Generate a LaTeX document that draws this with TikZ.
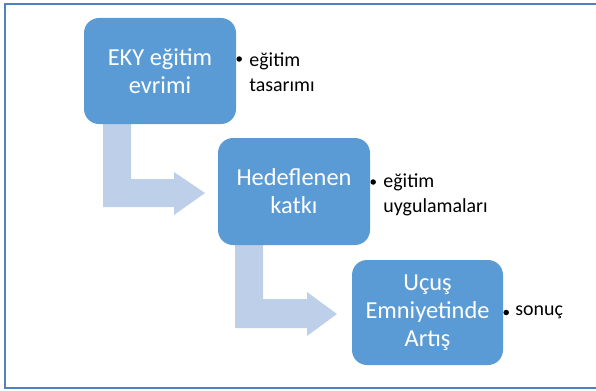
\documentclass[tikz,border=0pt]{standalone}
\usepackage{fontspec}
\setmainfont{Carlito}
\usetikzlibrary{calc}
\definecolor{boxblue}{RGB}{91,155,213}
\definecolor{framecol}{RGB}{79,129,196}
\definecolor{arrowcol}{RGB}{190,208,233}
\tikzset{
  stepbox/.style={draw=none, fill=boxblue, rounded corners=15bp, text=white,
    align=center, inner sep=0pt, font=\fontsize{24.5}{28}\selectfont},
  sidelabel/.style={anchor=west, align=left, inner sep=0pt, text=black,
    font=\fontsize{20}{25}\selectfont},
  bulletdot/.style={circle, fill=black, inner sep=0pt, minimum size=5.5bp},
  bendarrow/.style={fill=arrowcol, draw=none}
}
\begin{document}
\begin{tikzpicture}[x=1bp,y=1bp]
\useasboundingbox (0,0) rectangle (596,390);
% frame
\draw[framecol, line width=2bp] (5,2) rectangle (640,386);

% bent arrows (drawn first, under the boxes)
\fill[bendarrow] (103,270) -- (131,270) -- (131,211) -- (174,211) -- (174,218)
  -- (205,197) -- (174,175) -- (174,183) -- (103,183) -- cycle;
\fill[bendarrow] (235,150) -- (263,150) -- (263,91) -- (307,91) -- (307,98)
  -- (337,76) -- (307,54) -- (307,62) -- (235,62) -- cycle;

% boxes
\node[stepbox, minimum width=152bp, minimum height=106bp] (b1) at (160,319) {EKY eğitim\\evrimi};
\node[stepbox, minimum width=152bp, minimum height=107bp] (b2) at (294,198.5) {Hedeflenen\\katkı};
\node[stepbox, minimum width=151bp, minimum height=105bp] (b3) at (427.5,77.5) {Uçuş\\Emniyetinde\\Artış};

% side labels
\node[bulletdot] (d1) at ($(b1.east)+(3,12)$) {};
\node[sidelabel] (l1) at ($(b1.east)+(13,-1)$) {eğitim\\tasarımı};
\node[bulletdot] (d2) at ($(b2.east)+(3,9.5)$) {};
\node[sidelabel] (l2) at ($(b2.east)+(13,-3)$) {eğitim\\uygulamaları};
\node[bulletdot] (d3) at ($(b3.east)+(3,0)$) {};
\node[sidelabel] (l3) at ($(b3.east)+(12,0)$) {sonuç};
\end{tikzpicture}
\end{document}
